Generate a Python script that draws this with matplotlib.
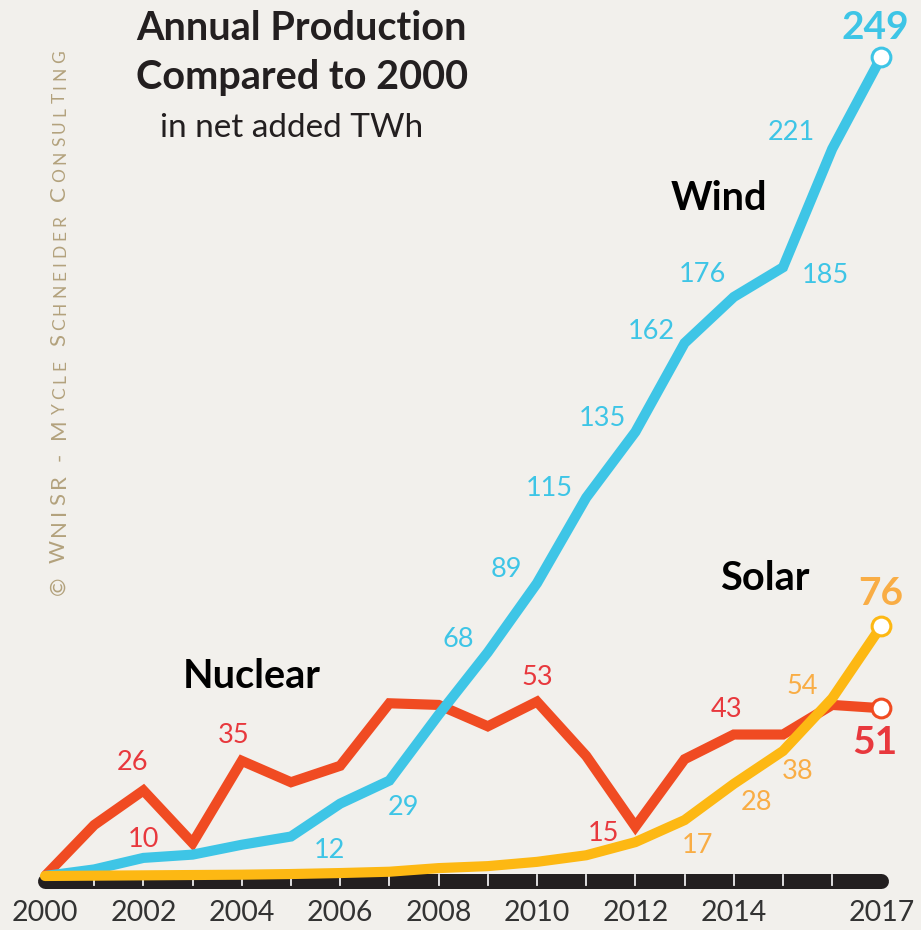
import matplotlib
matplotlib.use("Agg")
import matplotlib.pyplot as plt
from matplotlib.font_manager import FontProperties

# ---------------- data ----------------
years = list(range(2000, 2018))
wind = [0, 2, 5.5, 6.5, 9.5, 12, 22, 29, 49, 68, 89, 115, 135, 162, 176, 185, 221, 249]
nuclear = [0, 15.5, 26, 10, 35, 28.5, 33.5, 52.5, 52, 45.5, 53, 36.5, 15, 35.5, 43, 43, 52, 51]
solar = [0, 0.1, 0.2, 0.3, 0.4, 0.6, 0.9, 1.3, 2.4, 3, 4.3, 6.3, 10.3, 17, 28, 38, 54, 76]
tick_label_years = [2000, 2002, 2004, 2006, 2008, 2010, 2012, 2014, 2017]
tick_mark_years = list(range(2001, 2017))
wind_label_years = [2005, 2007, 2009, 2010, 2011, 2012, 2013, 2014, 2015, 2016]
nuclear_label_years = [2002, 2003, 2004, 2010, 2012, 2014]
solar_label_years = [2013, 2014, 2015, 2016]
series_names = ["Wind", "Nuclear", "Solar"]
title_lines = ["Annual Production", "Compared to 2000"]
subtitle = "in net added TWh"
credit = [("\u00a9 WNISR - M", True), ("YCLE", False), (" S", True),
          ("CHNEIDER", False), (" C", True), ("ONSULTING", False)]

# ---------------- style ----------------
BG = "#F2F0EC"
C_WIND = "#3EC5E6"
C_NUC = "#F04B22"
C_NUC_TXT = "#E8383D"
C_SOLAR = "#FDB813"
C_SOLAR_TXT = "#F9AD45"
C_DARK = "#231F20"
C_CREDIT = "#B3A27D"
FONT = ["Lato", "DejaVu Sans"]

W, H, DPI = 921, 930, 100
X0, DX = 45, 49.2      # pixel of 2000, pixels per year
Y0, DY = 876, 3.29     # pixel of zero, pixels per TWh

plt.rcParams["font.family"] = FONT
fig = plt.figure(figsize=(W / DPI, H / DPI), dpi=DPI, facecolor=BG)
ax = fig.add_axes([0, 0, 1, 1])
ax.set_facecolor(BG)
ax.set_xlim(2000 - X0 / DX, 2000 + (W - X0) / DX)
ax.set_ylim(-(H - Y0) / DY, Y0 / DY)
ax.axis("off")


def fpos(x, y):
    return x / W, 1 - y / H


# baseline bar with ticks
base_v = -1.37
ax.plot([years[0], years[-1]], [base_v, base_v], color=C_DARK, lw=10.8,
        solid_capstyle="round", zorder=1)
for yr in tick_mark_years:
    ax.plot([yr, yr], [0.3, -2.7], color="#EDEDED", lw=1.3, zorder=2)

# lines
LW = 7.3
ax.plot(years, nuclear, color=C_NUC, lw=LW, solid_joinstyle="miter",
        solid_capstyle="butt", zorder=3)
ax.plot(years, wind, color=C_WIND, lw=LW, solid_joinstyle="miter",
        solid_capstyle="butt", zorder=4)
ax.plot(years, solar, color=C_SOLAR, lw=LW, solid_joinstyle="miter",
        solid_capstyle="round", zorder=5)

# end circles
for vals, col in [(nuclear, C_NUC), (wind, C_WIND), (solar, C_SOLAR)]:
    ax.plot(years[-1], vals[-1], "o", ms=13.5, mfc="white", mec=col, mew=2.2,
            zorder=6)

# value labels (offset in pixels from data point)
wind_off = {2005: (38, -13.5), 2007: (14, -27.4), 2009: (-30, 12.3),
            2010: (-31, 14), 2011: (-37, 8.7), 2012: (-33, 13),
            2013: (-33, 12), 2014: (-31, 22), 2015: (42, -8.6),
            2016: (-41, 16)}
nuc_off = {2002: (-11, 27.5), 2003: (-49, 4), 2004: (-8, 25), 2010: (0.5, 24.6),
           2012: (-32, -7), 2014: (-7, 25.5)}
sol_off = {2013: (13.4, -25), 2014: (22.7, -19), 2015: (15, -21),
           2016: (-30, 12)}

NUM_FS = 19.5
for lab_years, vals, offs, col in [
        (wind_label_years, wind, wind_off, C_WIND),
        (nuclear_label_years, nuclear, nuc_off, C_NUC_TXT),
        (solar_label_years, solar, sol_off, C_SOLAR_TXT)]:
    for yr in lab_years:
        v = vals[years.index(yr)]
        ax.annotate(f"{v:.0f}", xy=(yr, v), xytext=offs[yr],
                    textcoords="offset pixels", ha="center", va="center",
                    color=col, fontsize=NUM_FS, fontweight="normal", zorder=7)

# bold end labels
for vals, off, col in [(wind, (-6, 29), C_WIND), (nuclear, (-6.5, -34), C_NUC_TXT),
                       (solar, (-1, 32.5), C_SOLAR_TXT)]:
    ax.annotate(f"{vals[-1]:.0f}", xy=(years[-1], vals[-1]), xytext=off,
                textcoords="offset pixels", ha="center", va="center",
                color=col, fontsize=28, fontweight="bold", zorder=7)

# x tick labels
for yr in tick_label_years:
    ax.annotate(str(yr), xy=(yr, 0), xytext=(0, -(913 - Y0)),
                textcoords="offset pixels", ha="center", va="center",
                color="#333333", fontsize=20.5)

# series names
for name, (px, py) in zip(series_names, [(719, 198), (252, 677), (765, 578)]):
    fig.text(*fpos(px, py), name, ha="center", va="center", fontsize=28.5,
             fontweight="bold", color="black")

# title
fig.text(*fpos(301, 29), title_lines[0], ha="center", va="center",
         fontsize=28.5, fontweight="bold", color=C_DARK)
fig.text(*fpos(302, 77), title_lines[1], ha="center", va="center",
         fontsize=28.5, fontweight="bold", color=C_DARK)
fig.text(*fpos(292, 128), subtitle, ha="center", va="center",
         fontsize=24, fontweight="normal", color=C_DARK)

# vertical credit text in small caps, letter-spaced
renderer = fig.canvas.get_renderer()
big = FontProperties(family=FONT, size=16)
small = FontProperties(family=FONT, size=12.5)
chars = []
for seg, is_big in credit:
    for ch in seg:
        chars.append((ch, big if is_big else small))
widths = [renderer.get_text_width_height_descent(ch, p, ismath=False)[0]
          for ch, p in chars]
total_len = 545
track = (total_len - sum(widths)) / (len(chars) - 1)
ypx = 595
for (ch, p), w in zip(chars, widths):
    fig.text(*fpos(65, ypx), ch, rotation=90, rotation_mode="anchor",
             ha="left", va="baseline", fontproperties=p, color=C_CREDIT)
    ypx -= w + track

fig.savefig("out.png", dpi=DPI, facecolor=BG)
